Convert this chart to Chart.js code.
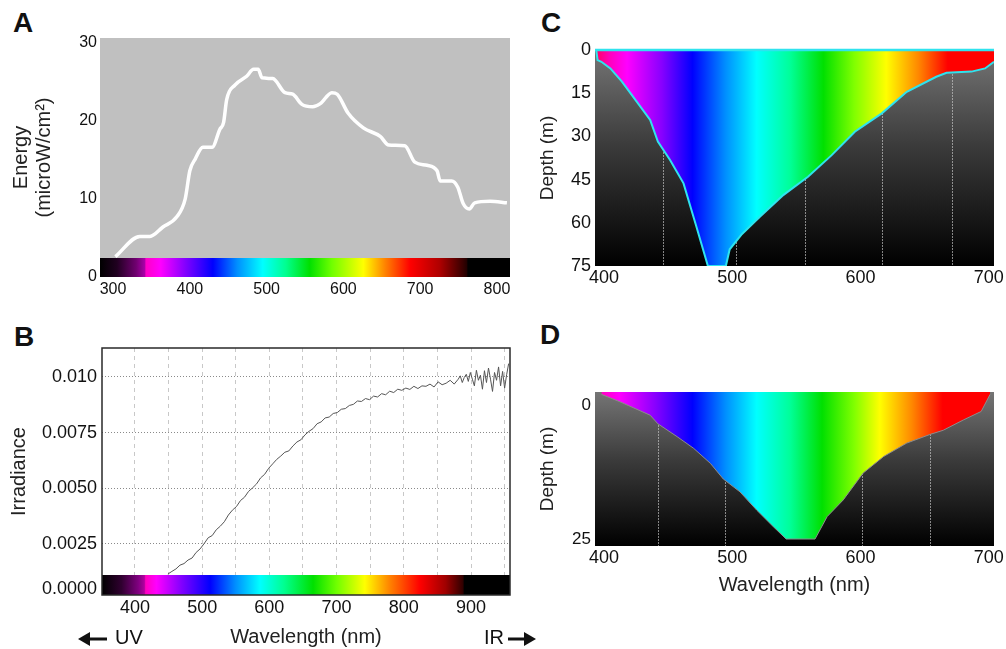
<!DOCTYPE html>
<html>
<head>
<meta charset="utf-8">
<script src="https://cdn.jsdelivr.net/npm/chart.js@4.4.1/dist/chart.umd.min.js"></script>
<style>
  body { margin: 0; background: #fff; width: 1006px; height: 649px; position: relative; overflow: hidden; }
  canvas { position: absolute; }
  .tag { position: absolute; font: bold 28px/28px "Liberation Sans", Arial, sans-serif; color: #111; }
</style>
</head>
<body>
<div class="tag" style="left:13px;top:9px">A</div>
<div class="tag" style="left:14px;top:323px">B</div>
<div class="tag" style="left:541px;top:9px">C</div>
<div class="tag" style="left:540px;top:321px">D</div>

<canvas id="chartA" width="520" height="300" style="left:0;top:0"></canvas>
<canvas id="chartB" width="545" height="349" style="left:0;top:300px"></canvas>
<canvas id="chartC" width="486" height="300" style="left:520px;top:0"></canvas>
<canvas id="chartD" width="486" height="300" style="left:520px;top:300px"></canvas>

<script>
'use strict';

// A - energy vs wavelength
const energyWl  = [303, 335, 348, 365, 383, 394, 400, 407, 417, 429, 439, 444, 448, 459, 474, 483, 489, 494, 508, 524,
                   534, 546, 560, 570, 585, 592, 606, 626, 648, 659, 680, 693, 709, 722, 726, 741, 749, 756, 764, 771, 791, 813];
const energyVal = [2.6, 5.2, 5.2, 6.4, 7.7, 10.0, 13.6, 15.1, 16.6, 16.6, 18.9, 19.8, 22.7, 24.6, 25.7, 26.6, 26.6, 25.5, 25.4, 23.6,
                   23.4, 22.1, 21.8, 22.2, 23.6, 23.4, 21.0, 19.1, 18.0, 16.9, 16.8, 14.7, 14.3, 13.6, 12.3, 12.3, 11.5, 9.4, 8.7, 9.5, 9.7, 9.5];
const xTicksA = [300, 400, 500, 600, 700, 800];
const yTicksA = [0, 10, 20, 30];

// B - irradiance
const irrWl = [449, 455, 461, 467, 473, 479, 485, 491, 497, 503, 509, 515, 521, 527, 533, 539, 545, 551, 557, 563,
               569, 575, 581, 587, 593, 599, 605, 611, 617, 623, 629, 635, 641, 647, 653, 659, 665, 671, 677, 683,
               689, 695, 701, 707, 713, 719, 725, 731, 737, 743, 749, 755, 761, 767, 773, 779, 785, 791, 797, 803,
               809, 815, 821, 827, 833, 839, 845, 851, 857, 863, 869, 875, 881,
               884, 887, 890, 893, 896, 899, 902, 905, 908, 911, 914, 917, 920, 923, 926, 929, 932, 935, 938, 941,
               944, 947, 950, 953, 956];
const irrVal = [0.00115, 0.00127, 0.00138, 0.00155, 0.00162, 0.00178, 0.00187, 0.00212, 0.00228, 0.00252,
                0.00278, 0.00288, 0.00314, 0.00330, 0.00350, 0.00380, 0.00402, 0.00418, 0.00445, 0.00460,
                0.00486, 0.00502, 0.00520, 0.00547, 0.00563, 0.00590, 0.00610, 0.00630, 0.00645, 0.00662,
                0.00668, 0.00690, 0.00708, 0.00718, 0.00740, 0.00756, 0.00768, 0.00790, 0.00798, 0.00816,
                0.00820, 0.00836, 0.00840, 0.00855, 0.00858, 0.00872, 0.00877, 0.00892, 0.00890, 0.00903,
                0.00898, 0.00914, 0.00910, 0.00925, 0.00920, 0.00936, 0.00930, 0.00945, 0.00940, 0.00950,
                0.00944, 0.00958, 0.00948, 0.00960, 0.00958, 0.00968, 0.00955, 0.00978, 0.00965, 0.00972,
                0.00985, 0.00968, 0.00990,
                0.01005, 0.00975, 0.00998, 0.01012, 0.00980, 0.01020, 0.00990, 0.00960, 0.01030, 0.00985,
                0.01008, 0.00945, 0.01028, 0.00975, 0.01040, 0.00990, 0.00935, 0.01020, 0.00985, 0.01045,
                0.00960, 0.01025, 0.00950, 0.01010, 0.01060];
const xTicksB = [400, 450, 500, 550, 600, 650, 700, 750, 800, 850, 900, 950];
const yTicksB = [0.0005, 0.0025, 0.005, 0.0075, 0.010];
const yLabelsB = ['0.0000', '0.0025', '0.0050', '0.0075', '0.010'];

// C - depth reached by each wavelength (clear water)
const depthCWl  = [394, 395, 398, 405, 414, 425.5, 436, 442, 451.5, 462, 472, 481, 495, 498, 507,
                   521.5, 540, 559, 577.5, 595.5, 616.5, 636, 659, 667, 686.5, 697, 704];
const depthCVal = [0, 3.5, 4.1, 6.4, 11, 17.9, 24.3, 31.8, 38.2, 46.3, 61.3, 75, 75, 69.2, 64.2,
                   57.9, 50.3, 44, 36.5, 28.4, 22, 14.5, 9.3, 7.9, 7.5, 6.4, 4.1];
const surfaceWl  = [393, 704];
const surfaceVal = [0, 0];
const markersC = [446, 503, 557, 617, 671];
const yTicksC = [0, 15, 30, 45, 60, 75];

// D - depth reached by each wavelength (coastal water)
const depthDWl  = [398, 412.5, 436, 442, 457, 470, 483, 493, 506, 519, 532, 542, 564.5, 574, 586.5,
                   602, 618, 636, 654, 664.5, 680, 694, 701];
const depthDVal = [-2.0, -0.6, 1.9, 3.5, 5.9, 8.1, 10.9, 13.8, 16.2, 19.6, 22.7, 25.0, 25.0, 20.8, 17.7,
                   12.7, 9.6, 7.1, 5.5, 4.7, 2.8, 1.2, -2.0];
const markersD = [442, 494, 601, 654];
const yTicksD = [0, 25];
const xTicksCD = [400, 500, 600, 700];

// colour stops [wavelength, colour] for the spectrum strips
const specA = [[283, '#000000'], [305, '#200020'], [330, '#700070'], [341, '#a800a8'], [343, '#ff00c8'], [362, '#ff00ff'],
               [395, '#8000ff'], [430, '#0000ff'], [462, '#0090ff'], [495, '#00ffff'], [525, '#00ff90'], [556, '#00e000'],
               [585, '#70ff00'], [626, '#ffff00'], [655, '#ff8000'], [687, '#ff0000'], [725, '#b00000'], [755, '#3a0000'],
               [761, '#200000'], [762, '#000000'], [817, '#000000']];
const specB = [[351, '#000000'], [380, '#300030'], [405, '#800080'], [414, '#b000a0'], [416, '#ff00c0'], [432, '#ff00ff'],
               [470, '#8000ff'], [512, '#0000ff'], [550, '#0090ff'], [586, '#00ffff'], [622, '#00ff90'], [665, '#00e000'],
               [700, '#70ff00'], [742, '#ffff00'], [780, '#ff8000'], [824, '#ff0000'], [862, '#a00000'], [888, '#300000'],
               [890, '#000000'], [958, '#000000']];
const specC = [[393, '#ff0060'], [405, '#ff00c0'], [418, '#ff00ff'], [445, '#8800ff'], [469, '#0000ff'], [495, '#0090ff'],
               [519, '#00ffff'], [545, '#00ff99'], [571, '#00e000'], [595, '#80ff00'], [620, '#ffff00'], [645, '#ff8800'],
               [668, '#ff0000'], [704, '#ff0000']];
const specD = [[398, '#ff00c0'], [412, '#ff00ff'], [440, '#8800ff'], [469, '#0000ff'], [495, '#0090ff'], [519, '#00ffff'],
               [545, '#00ff99'], [570, '#00e000'], [595, '#80ff00'], [615, '#ffff00'], [640, '#ff8800'], [664, '#ff0000'],
               [704, '#ff0000']];

const FONT = '"Liberation Sans", Arial, Helvetica, sans-serif';
Chart.defaults.font.family = FONT;
Chart.defaults.color = '#111';

const xy = (xs, ys) => xs.map((x, i) => ({ x: x, y: ys[i] }));
const fixTicks = list => s => { s.ticks = list.map(v => ({ value: v })); };

function spectrum(ctx, xs, stops) {
  const g = ctx.createLinearGradient(xs.left, 0, xs.right, 0);
  const w = xs.right - xs.left;
  stops.forEach(([wl, c]) => {
    const p = (xs.getPixelForValue(wl) - xs.left) / w;
    g.addColorStop(Math.min(1, Math.max(0, p)), c);
  });
  return g;
}

function spectrumFill(stops) {
  return c => {
    const chart = c.chart;
    if (!chart.chartArea) return 'rgba(0,0,0,0)';
    return spectrum(chart.ctx, chart.scales.x, stops);
  };
}

function arrow(ctx, from, to, y) {
  const dir = Math.sign(to - from);
  ctx.lineWidth = 3;
  ctx.beginPath();
  ctx.moveTo(from, y);
  ctx.lineTo(to - dir * 8, y);
  ctx.stroke();
  ctx.beginPath();
  ctx.moveTo(to, y);
  ctx.lineTo(to - dir * 12, y - 7);
  ctx.lineTo(to - dir * 12, y + 7);
  ctx.closePath();
  ctx.fill();
}

// backgrounds, spectrum strips, frames, markers
const panelPlugin = {
  id: 'panel',
  beforeDraw(chart, args, o) {
    const { ctx, chartArea: a } = chart;
    if (o.bg) {
      ctx.save();
      ctx.fillStyle = o.bg;
      ctx.fillRect(a.left, a.top, a.right - a.left, a.bottom - a.top);
      ctx.restore();
    }
  },
  beforeDatasetsDraw(chart, args, o) {
    const { ctx, chartArea: a, scales } = chart;
    if (o.depthBg) {
      ctx.save();
      const g = ctx.createLinearGradient(0, a.top, 0, a.bottom);
      g.addColorStop(0, '#757575');
      g.addColorStop(0.45, '#3a3a3a');
      g.addColorStop(1, '#000000');
      ctx.fillStyle = g;
      ctx.fillRect(a.left, a.top, a.right - a.left, a.bottom - a.top);
      ctx.strokeStyle = 'rgba(200,200,200,0.65)';
      ctx.lineWidth = 1;
      ctx.setLineDash([2, 1]);
      (o.markers || []).forEach(wl => {
        const x = Math.round(scales.x.getPixelForValue(wl)) + 0.5;
        ctx.beginPath();
        ctx.moveTo(x, a.top);
        ctx.lineTo(x, a.bottom);
        ctx.stroke();
      });
      ctx.restore();
    }
  },
  afterDatasetsDraw(chart, args, o) {
    const { ctx, chartArea: a, scales } = chart;
    ctx.save();
    if (o.bar) {
      ctx.fillStyle = spectrum(ctx, scales.x, o.bar);
      ctx.fillRect(a.left, a.bottom - o.barHeight, a.right - a.left, o.barHeight);
    }
    if (o.box) {
      ctx.strokeStyle = '#2a2a2a';
      ctx.lineWidth = 1.5;
      ctx.strokeRect(a.left, a.top, a.right - a.left, a.bottom - a.top);
    }
    ctx.restore();
  },
  afterDraw(chart, args, o) {
    if (!o.arrows) return;
    const ctx = chart.ctx;
    ctx.save();
    ctx.fillStyle = '#111';
    ctx.strokeStyle = '#111';
    ctx.font = '20px ' + FONT;
    ctx.textBaseline = 'middle';
    ctx.textAlign = 'left';
    ctx.fillText('UV', 115, 338);
    ctx.textAlign = 'right';
    ctx.fillText('IR', 504, 338);
    arrow(ctx, 107, 78, 339);
    arrow(ctx, 508, 536, 339);
    ctx.restore();
  }
};

const baseOpts = {
  responsive: false,
  animation: false,
  events: []
};
const noGrid = { display: false, drawTicks: false };

// ---- A ----
new Chart(document.getElementById('chartA'), {
  type: 'line',
  data: {
    datasets: [{
      data: xy(energyWl, energyVal),
      borderColor: '#ffffff',
      borderWidth: 3.5,
      pointRadius: 0,
      cubicInterpolationMode: 'monotone',
      fill: false
    }]
  },
  options: {
    ...baseOpts,
    layout: { padding: { top: 38, right: 10, left: 0, bottom: 0 } },
    plugins: {
      legend: { display: false },
      tooltip: { enabled: false },
      panel: { bg: '#c0c0c0', bar: specA, barHeight: 19 }
    },
    scales: {
      x: {
        type: 'linear', min: 283, max: 817,
        grid: noGrid, border: { display: false },
        afterBuildTicks: fixTicks(xTicksA),
        afterFit: s => { s.height = 23; },
        ticks: { font: { size: 16 }, padding: 3, maxRotation: 0, autoSkip: false }
      },
      y: {
        type: 'linear', min: 0, max: 30.6,
        grid: noGrid, border: { display: false },
        afterBuildTicks: fixTicks(yTicksA),
        afterFit: s => { s.width = 100; },
        ticks: { font: { size: 16 }, padding: 3 },
        title: {
          display: true, text: ['Energy', '(microW/cm²)'],
          font: { size: 20, lineHeight: 1.15 }, color: '#222',
          padding: { top: 10, bottom: 0 }
        }
      }
    }
  },
  plugins: [panelPlugin]
});

// ---- B ----
new Chart(document.getElementById('chartB'), {
  type: 'line',
  data: {
    datasets: [{
      data: xy(irrWl, irrVal),
      borderColor: '#555555',
      borderWidth: 1,
      pointRadius: 0,
      tension: 0,
      fill: false
    }]
  },
  options: {
    ...baseOpts,
    layout: { padding: { top: 48, right: 35, left: 0, bottom: 0 } },
    plugins: {
      legend: { display: false },
      tooltip: { enabled: false },
      panel: { bar: specB, barHeight: 20, box: true, arrows: true }
    },
    scales: {
      x: {
        type: 'linear', min: 351, max: 958,
        grid: { color: '#c8c8c8', drawTicks: false },
        border: { display: false, dash: [4, 4] },
        afterBuildTicks: fixTicks(xTicksB),
        afterFit: s => { s.height = 54; },
        ticks: { font: { size: 18 }, padding: 2, maxRotation: 0, autoSkip: false,
                 callback: v => (v % 100 === 0 ? String(v) : '') },
        title: { display: true, text: 'Wavelength (nm)', font: { size: 20, lineHeight: 1.15 }, color: '#222',
                 padding: { top: 0, bottom: 0 } }
      },
      y: {
        type: 'linear', min: 0.00021, max: 0.0113,
        grid: { color: '#8a8a8a', drawTicks: false },
        border: { display: false, dash: [1, 2] },
        afterBuildTicks: fixTicks(yTicksB),
        afterFit: s => { s.width = 102; },
        ticks: { font: { size: 18 }, padding: 5,
                 callback: v => yLabelsB[yTicksB.indexOf(v)] },
        title: { display: true, text: 'Irradiance', font: { size: 20, lineHeight: 1.15 }, color: '#222',
                 padding: { top: 8, bottom: 0 } }
      }
    }
  },
  plugins: [panelPlugin]
});

// ---- C ----
new Chart(document.getElementById('chartC'), {
  type: 'line',
  data: {
    datasets: [{
      data: xy(surfaceWl, surfaceVal),
      borderColor: '#2fe3ee',
      borderWidth: 2.5,
      pointRadius: 0,
      fill: false,
      clip: 4
    }, {
      data: xy(depthCWl, depthCVal),
      borderColor: '#2fe3ee',
      borderWidth: 2,
      pointRadius: 0,
      tension: 0,
      fill: { value: 0 },
      backgroundColor: spectrumFill(specC)
    }]
  },
  options: {
    ...baseOpts,
    layout: { padding: { top: 50, right: 12, left: 0, bottom: 0 } },
    plugins: {
      legend: { display: false },
      tooltip: { enabled: false },
      panel: { depthBg: true, markers: markersC }
    },
    scales: {
      x: {
        type: 'linear', min: 393, max: 704,
        grid: noGrid, border: { display: false },
        afterBuildTicks: fixTicks(xTicksCD),
        afterFit: s => { s.height = 34; },
        ticks: { font: { size: 18 }, padding: 1, maxRotation: 0, autoSkip: false }
      },
      y: {
        type: 'linear', min: 0, max: 75, reverse: true,
        grid: noGrid, border: { display: false },
        afterBuildTicks: fixTicks(yTicksC),
        afterFit: s => { s.width = 75; },
        ticks: { font: { size: 18 }, padding: 4 },
        title: { display: true, text: 'Depth (m)', font: { size: 19, lineHeight: 1.15 }, color: '#222',
                 padding: { top: 17, bottom: 0 } }
      }
    }
  },
  plugins: [panelPlugin]
});

// ---- D ----
new Chart(document.getElementById('chartD'), {
  type: 'line',
  data: {
    datasets: [{
      data: xy(depthDWl, depthDVal),
      borderColor: '#8c8c8c',
      borderWidth: 1,
      pointRadius: 0,
      tension: 0,
      fill: { value: -2.43 },
      backgroundColor: spectrumFill(specD)
    }]
  },
  options: {
    ...baseOpts,
    layout: { padding: { top: 92, right: 12, left: 0, bottom: 0 } },
    plugins: {
      legend: { display: false },
      tooltip: { enabled: false },
      panel: { depthBg: true, markers: markersD }
    },
    scales: {
      x: {
        type: 'linear', min: 393, max: 704,
        grid: noGrid, border: { display: false },
        afterBuildTicks: fixTicks(xTicksCD),
        afterFit: s => { s.height = 54; },
        ticks: { font: { size: 18 }, padding: 1, maxRotation: 0, autoSkip: false },
        title: { display: true, text: 'Wavelength (nm)', font: { size: 20, lineHeight: 1.15 }, color: '#222',
                 padding: { top: 0, bottom: 3 } }
      },
      y: {
        type: 'linear', min: -2.43, max: 26.3, reverse: true,
        grid: noGrid, border: { display: false },
        afterBuildTicks: fixTicks(yTicksD),
        afterFit: s => { s.width = 75; },
        ticks: { font: { size: 17 }, padding: 4 },
        title: { display: true, text: 'Depth (m)', font: { size: 19, lineHeight: 1.15 }, color: '#222',
                 padding: { top: 17, bottom: 0 } }
      }
    }
  },
  plugins: [panelPlugin]
});
</script>
</body>
</html>
